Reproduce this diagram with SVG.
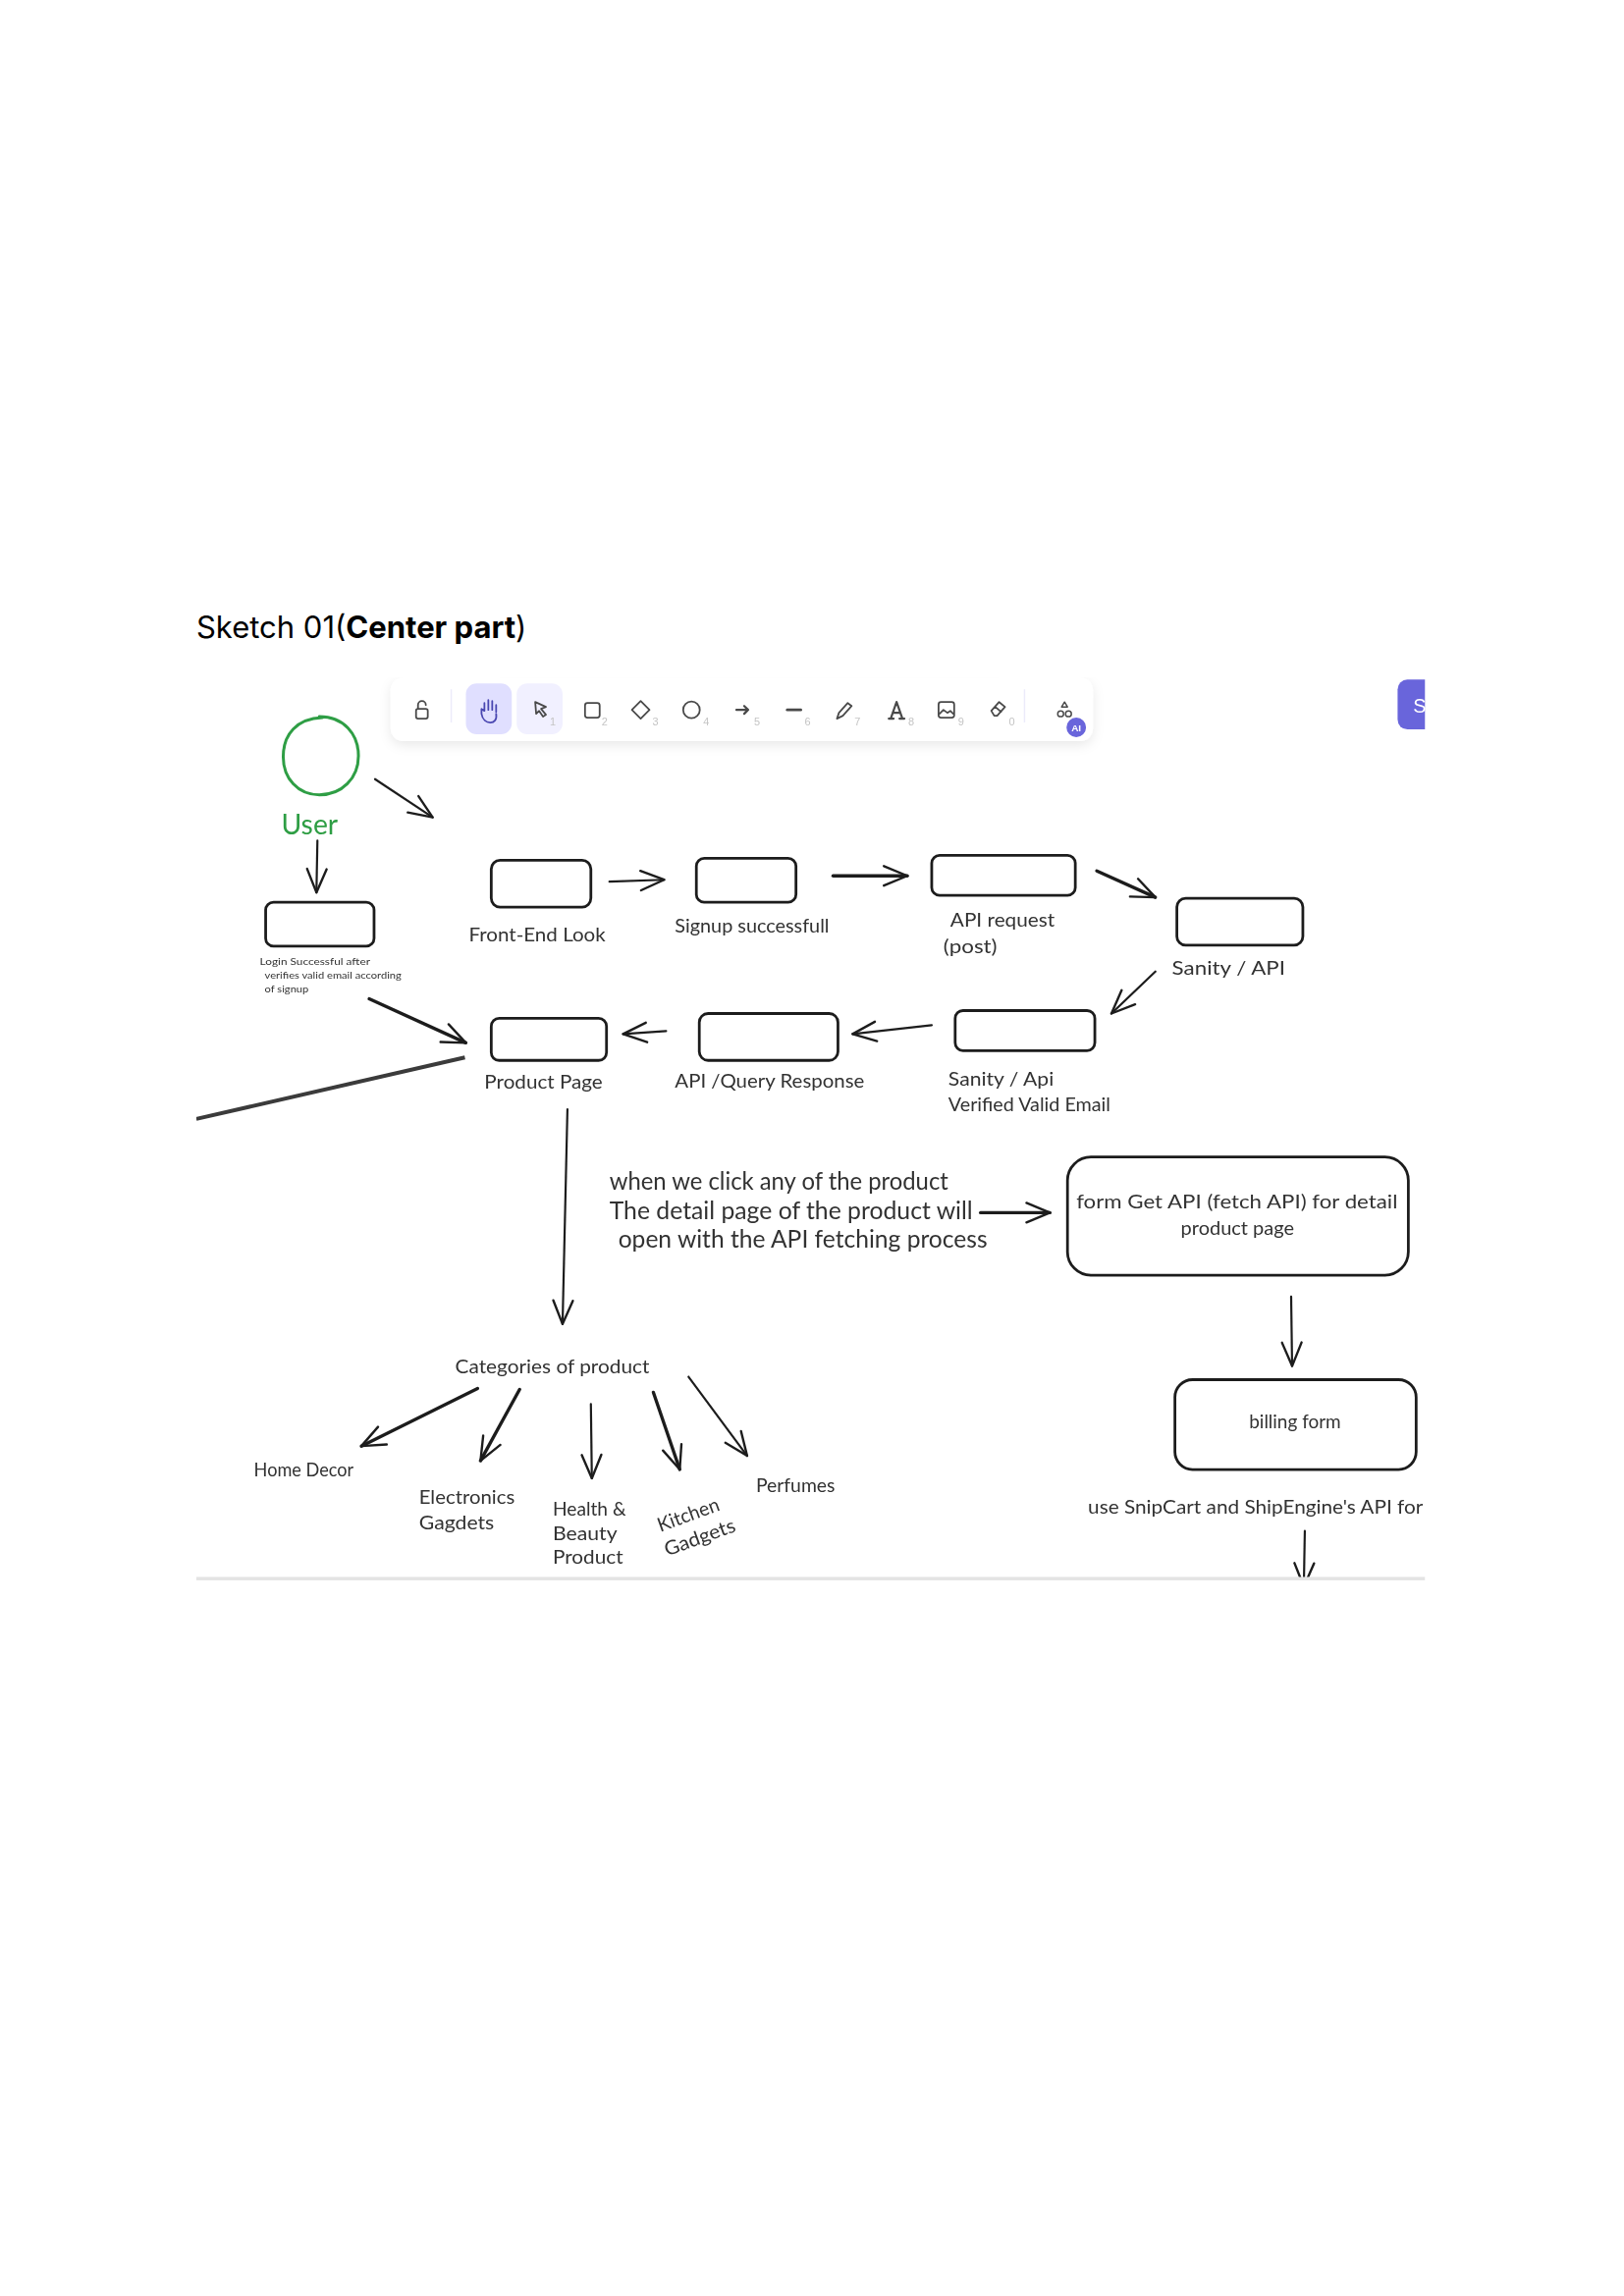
<svg xmlns="http://www.w3.org/2000/svg" width="1654" height="2339" viewBox="0 0 1654 2339">
<style>
.box{fill:#fff;stroke:#1e1e1e;stroke-width:2.8}
.h{font-family:"Lato","Noto Sans",sans-serif;fill:#333;font-size:20px}
.c{fill:none;stroke:#1e1e1e;stroke-width:2.2;stroke-linecap:round;marker-end:url(#head)}
.t{stroke-width:3.4}
.i{fill:none;stroke:#4a4a4a;stroke-width:1.8;stroke-linejoin:round;stroke-linecap:round}
.n{font-family:"Liberation Sans",sans-serif;font-size:11px;fill:#c4c4c4}
</style>
<defs>
<marker id="head" markerUnits="userSpaceOnUse" markerWidth="40" markerHeight="40" refX="30" refY="20" orient="auto" viewBox="0 0 40 40"><path d="M6 10 L30 20 L6 30" fill="none" stroke="#1e1e1e" stroke-width="2.4" stroke-linecap="round" stroke-linejoin="round"/></marker>
<filter id="sh" x="-5%" y="-30%" width="110%" height="170%"><feDropShadow dx="0" dy="4" stdDeviation="6" flood-color="#000" flood-opacity="0.09"/></filter>
<filter id="soft" x="0" y="0" width="100%" height="100%"><feGaussianBlur stdDeviation="0.45"/></filter>
<clipPath id="shot"><rect x="201" y="680" width="1258" height="936"/></clipPath>
</defs>
<rect width="1654" height="2339" fill="#fff"/>
<g transform="scale(0.9947)">
<text id="title" x="201" y="653" font-family="Inter,'Liberation Sans',sans-serif" font-size="31.2" fill="#000">Sketch 01(<tspan font-weight="700">Center part</tspan>)</text>
<g clip-path="url(#shot)"><g filter="url(#soft)">
<g id="toolbar">
<rect x="400" y="694" width="719" height="65" rx="13" fill="#fff" filter="url(#sh)"/>
<path d="M462 706V740M1049 706V740" stroke="#ecebfa" stroke-width="1.5"/>
<g transform="translate(1 3)">
<rect x="476" y="697" width="47" height="52" rx="11" fill="#e0dfff"/>
<rect x="528" y="697" width="47" height="52" rx="11" fill="#f1f0ff"/>
<path class="i" style="stroke:#4a47b1" d="M495 725v-8M499 724v-10M503 724v-9M507 726v-7M495 725l-3-2v5c1 6 5 9 9 9s7-3 6-9"/>
<path class="i" d="M547 716l11 5-5 2 5 6-3 2-4-6-3 3z"/>
</g>
<g class="i" transform="translate(3 4)"><rect x="423" y="722" width="12" height="10" rx="2"/><path d="M425 722v-4a4 4 0 0 1 8 0"/></g>
<g transform="translate(4 4)">
<rect class="i" x="595" y="716" width="15" height="15" rx="2.5"/>
<path class="i" d="M652 714l9 9-9 9-9-9z"/>
<circle class="i" cx="704" cy="723" r="8.5"/>
<path class="i" style="stroke-width:2.2" d="M750 723h12M758 719l4 4-4 4"/>
<path class="i" style="stroke-width:2.6" d="M802 723h14"/>
<path class="i" d="M853 732l2-6 9-10 4 3-9 10z"/>
<text class="n" x="612" y="739">2</text><text class="n" x="664" y="739">3</text><text class="n" x="716" y="739">4</text><text class="n" x="768" y="739">5</text><text class="n" x="820" y="739">6</text><text class="n" x="871" y="739">7</text>
</g>
<text class="n" x="563" y="743">1</text>
<g transform="translate(6 4)">
<path class="i" style="stroke-width:2.2" d="M904 732h5M915 732h5M912 715l-6 17M912 715l6 17M908 726h8"/>
<rect class="i" x="955" y="715" width="16" height="16" rx="2.5"/><path class="i" d="M956 727l4-4 4 3 3-2 3 3"/>
<path class="i" d="M1009 724l8-9 6 5-8 9h-3zM1013 720l6 5"/>
<text class="n" x="924" y="739">8</text><text class="n" x="975" y="739">9</text><text class="n" x="1027" y="739">0</text>
</g>
<g class="i" style="stroke-width:1.5"><path d="M1090 719l3 5h-6z"/><circle cx="1086" cy="731" r="3"/><circle cx="1094" cy="731" r="3"/></g>
<circle cx="1102" cy="745" r="10" fill="#6965db"/>
<text x="1102" y="749" text-anchor="middle" font-family="'Liberation Sans',sans-serif" font-size="10" font-weight="700" fill="#fff">AI</text>
</g>
<g id="share-button">
<rect x="1431" y="696" width="60" height="51" rx="10" fill="#6965db"/>
<text x="1447" y="730" font-family="'Liberation Sans',sans-serif" font-size="20" fill="#fff">Sh</text>
</g>
<g id="connectors">
<path class="c" d="M384 798 L443 837"/>
<path class="c" d="M325 861 L324 914"/>
<path class="c" d="M624 903 L680 901"/>
<path class="c t" d="M853 897 L929 897"/>
<path class="c t" d="M1123 892 L1183 919"/>
<path class="c" d="M1183 995 L1138 1038"/>
<path class="c" d="M954 1050 L873 1059"/>
<path class="c" d="M682 1056 L638 1059"/>
<path class="c t" d="M378 1023 L477 1068"/>
<path d="M201 1146 L476 1083" fill="none" stroke="#3a3a3a" stroke-width="4"/>
<path class="c" d="M581 1136 L576 1356"/>
<path class="c t" d="M1004 1242 L1075 1242"/>
<path class="c" d="M1322 1328 L1323 1399"/>
<path class="c" d="M1336 1568 L1335 1625"/>
<path class="c t" d="M489 1422 L370 1481"/>
<path class="c t" d="M532 1423 L492 1496"/>
<path class="c" d="M605 1438 L606 1514"/>
<path class="c t" d="M669 1426 L696 1505"/>
<path class="c" d="M705 1410 L765 1491"/>
</g>
<g id="user">
<path d="M327 734 C352 734 367 752 367 774 C367 797 350 814 327 814 C305 814 290 797 290 775 C290 752 304 736 330 735" fill="none" stroke="#2f9e44" stroke-width="3" stroke-linecap="round"/>
<text class="h" x="288" y="855" style="fill:#2f9e44;font-size:29px" textLength="58" lengthAdjust="spacingAndGlyphs">User</text>
</g>
<g id="login">
<rect class="box" x="272" y="924" width="111" height="45" rx="8"/>
<text class="h" style="font-size:9.5px" x="266" y="988" textLength="113" lengthAdjust="spacingAndGlyphs">Login Successful after</text>
<text class="h" style="font-size:9.5px" x="271" y="1002" textLength="140" lengthAdjust="spacingAndGlyphs">verifies valid email according</text>
<text class="h" style="font-size:9.5px" x="271" y="1016" textLength="45" lengthAdjust="spacingAndGlyphs">of signup</text>
</g>
<g id="front-end">
<rect class="box" x="503" y="881" width="102" height="48" rx="9"/>
<text class="h" x="480" y="964" textLength="140" lengthAdjust="spacingAndGlyphs">Front-End Look</text>
</g>
<g id="signup">
<rect class="box" x="713" y="879" width="102" height="45" rx="8"/>
<text class="h" x="691" y="955" textLength="158" lengthAdjust="spacingAndGlyphs">Signup successfull</text>
</g>
<g id="api-request">
<rect class="box" x="954" y="876" width="147" height="41" rx="8"/>
<text class="h" x="973" y="949" textLength="107" lengthAdjust="spacingAndGlyphs">API request</text>
<text class="h" x="966" y="976" textLength="55" lengthAdjust="spacingAndGlyphs">(post)</text>
</g>
<g id="sanity-api">
<rect class="box" x="1205" y="920" width="129" height="48" rx="9"/>
<text class="h" x="1200" y="998" textLength="116" lengthAdjust="spacingAndGlyphs">Sanity / API</text>
</g>
<g id="sanity-verified">
<rect class="box" x="978" y="1035" width="143" height="41" rx="8"/>
<text class="h" x="971" y="1112" textLength="108" lengthAdjust="spacingAndGlyphs">Sanity / Api</text>
<text class="h" x="971" y="1138" textLength="166" lengthAdjust="spacingAndGlyphs">Verified Valid Email</text>
</g>
<g id="api-query">
<rect class="box" x="716" y="1038" width="142" height="48" rx="9"/>
<text class="h" x="691" y="1114" textLength="194" lengthAdjust="spacingAndGlyphs">API /Query Response</text>
</g>
<g id="product-page">
<rect class="box" x="503" y="1043" width="118" height="43" rx="8"/>
<text class="h" x="496" y="1115" textLength="121" lengthAdjust="spacingAndGlyphs">Product Page</text>
</g>
<g id="click-note">
<text class="h" style="font-size:25px" x="624" y="1218" textLength="347" lengthAdjust="spacingAndGlyphs">when we click any of the product</text>
<text class="h" style="font-size:25px" x="624" y="1249" textLength="372" lengthAdjust="spacingAndGlyphs">The detail page of the product will</text>
<text class="h" style="font-size:25px" x="633" y="1278" textLength="378" lengthAdjust="spacingAndGlyphs">open with the API fetching process</text>
</g>
<g id="detail-form">
<rect class="box" x="1093" y="1185" width="349" height="121" rx="24"/>
<text class="h" x="1102" y="1238" textLength="329" lengthAdjust="spacingAndGlyphs">form Get API (fetch API) for detail</text>
<text class="h" x="1209" y="1265" textLength="116" lengthAdjust="spacingAndGlyphs">product page</text>
</g>
<g id="billing">
<rect class="box" x="1203" y="1413" width="247" height="92" rx="18"/>
<text class="h" x="1279" y="1463" textLength="94" lengthAdjust="spacingAndGlyphs">billing form</text>
</g>
<text id="snipcart" class="h" x="1114" y="1550" textLength="343" lengthAdjust="spacingAndGlyphs">use SnipCart and ShipEngine's API for</text>
<text id="categories" class="h" x="466" y="1406" textLength="199" lengthAdjust="spacingAndGlyphs">Categories of product</text>
<text id="home-decor" class="h" x="260" y="1512" textLength="102" lengthAdjust="spacingAndGlyphs">Home Decor</text>
<g id="electronics">
<text class="h" x="429" y="1540" textLength="98" lengthAdjust="spacingAndGlyphs">Electronics</text>
<text class="h" x="429" y="1566" textLength="77" lengthAdjust="spacingAndGlyphs">Gagdets</text>
</g>
<g id="health">
<text class="h" x="566" y="1552" textLength="75" lengthAdjust="spacingAndGlyphs">Health &amp;</text>
<text class="h" x="566" y="1577" textLength="66" lengthAdjust="spacingAndGlyphs">Beauty</text>
<text class="h" x="566" y="1602" textLength="72" lengthAdjust="spacingAndGlyphs">Product</text>
</g>
<g id="kitchen">
<text class="h" transform="translate(676 1569) rotate(-20)" textLength="66" lengthAdjust="spacingAndGlyphs">Kitchen</text>
<text class="h" transform="translate(683 1594) rotate(-20)" textLength="76" lengthAdjust="spacingAndGlyphs">Gadgets</text>
</g>
<text id="perfumes" class="h" x="774" y="1528" textLength="81" lengthAdjust="spacingAndGlyphs">Perfumes</text>
</g></g>
<rect id="edge" x="201" y="1615" width="1258" height="3.5" fill="#e4e4e4"/>
</g>
</svg>
